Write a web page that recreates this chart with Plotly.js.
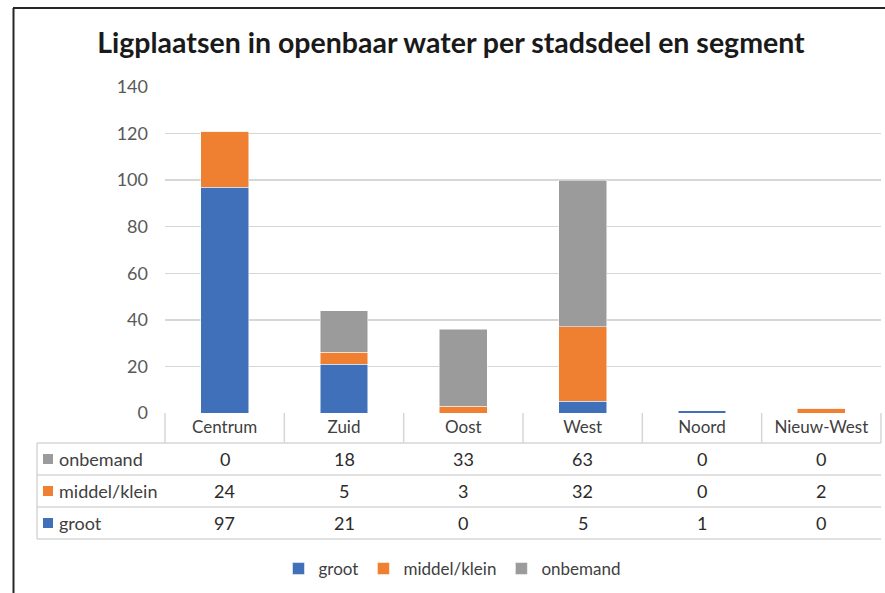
<!DOCTYPE html>
<html>
<head>
<meta charset="utf-8">
<script src="https://cdn.plot.ly/plotly-3.0.1.min.js"></script>
<style>body{margin:0;background:#fff}#plot{width:885px;height:593px}</style>
</head>
<body>
<div id="plot"></div>
<script>
let stadsdelen = ['Centrum', 'Zuid', 'Oost', 'West', 'Noord', 'Nieuw-West'];
let groot = [97, 21, 0, 5, 1, 0];
let middelKlein = [24, 5, 3, 32, 0, 2];
let onbemand = [0, 18, 33, 63, 0, 0];
let yTicks = [0, 20, 40, 60, 80, 100, 120, 140];

let blauw = '#3F70B9', oranje = '#EF7F31', grijs = '#9B9B9B';
let lijnKleur = '#d6d6d6';
let font = 'Lato, "Open Sans", sans-serif';

// plot area in pixels, used to place the data table below the axis
let plotLeft = 165, plotRight = 881, plotTop = 87, plotBottom = 413;
function px(x) { return (x - plotLeft) / (plotRight - plotLeft); }
function py(y) { return (plotBottom - y) / (plotBottom - plotTop); }

function barTrace(name, values, color) {
    return {
        x: stadsdelen,
        y: values,
        name: name,
        type: 'bar',
        width: 0.4,
        marker: {color: color, line: {color: '#ffffff', width: 0.5}}
    };
}

let data = [
    barTrace('groot', groot, blauw),
    barTrace('middel/klein', middelKlein, oranje),
    barTrace('onbemand', onbemand, grijs)
];

// data table (rows top to bottom, as in the picture)
let rijen = [
    {name: 'onbemand', values: onbemand, color: grijs},
    {name: 'middel/klein', values: middelKlein, color: oranje},
    {name: 'groot', values: groot, color: blauw}
];
let tabelLinks = 37, rijTop = 443, rijHoogte = 32;

let shapes = [];
let annotations = [];

function lijn(x0, y0, x1, y1, color, width) {
    shapes.push({type: 'line', xref: 'paper', yref: 'paper',
        x0: px(x0), y0: py(y0), x1: px(x1), y1: py(y1),
        line: {color: color, width: width}});
}

// horizontal table lines
for (let k = 0; k <= rijen.length; k++) {
    let y = rijTop + k * rijHoogte;
    lijn(tabelLinks, y, plotRight, y, lijnKleur, 1.5);
}
// left edge of the table body
lijn(tabelLinks, rijTop, tabelLinks, rijTop + rijen.length * rijHoogte, lijnKleur, 1.5);
// dividers in the category header row
for (let i = 0; i <= stadsdelen.length; i++) {
    let x = plotLeft + i * (plotRight - plotLeft) / stadsdelen.length;
    lijn(x, plotBottom, x, rijTop, lijnKleur, 1.5);
}

rijen.forEach(function (rij, k) {
    let midden = rijTop + k * rijHoogte + rijHoogte / 2;
    shapes.push({type: 'rect', xref: 'paper', yref: 'paper',
        x0: px(43), x1: px(53), y0: py(midden - 5), y1: py(midden + 5),
        fillcolor: rij.color, line: {width: 0}});
    annotations.push({xref: 'paper', yref: 'paper', x: px(57), y: py(midden),
        xanchor: 'left', yanchor: 'middle', text: rij.name, showarrow: false,
        font: {family: font, size: 18, color: '#404040'}});
    rij.values.forEach(function (v, i) {
        annotations.push({xref: 'x', yref: 'paper', x: stadsdelen[i], y: py(midden),
            xanchor: 'center', yanchor: 'middle', text: String(v), showarrow: false,
            font: {family: font, size: 18, color: '#2b2b2b'}});
    });
});

// outer frame (top and left edges are visible)
lijn(13, 8, 885, 8, '#262626', 2);
lijn(13.5, 8, 13.5, 593, '#262626', 2);

let layout = {
    width: 885,
    height: 593,
    margin: {l: plotLeft, r: 885 - plotRight, t: plotTop, b: 593 - plotBottom, pad: 0},
    paper_bgcolor: '#ffffff',
    plot_bgcolor: '#ffffff',
    font: {family: font, color: '#404040'},
    title: {
        text: 'Ligplaatsen in openbaar water per stadsdeel en segment',
        font: {family: font, size: 28.5, color: '#1a1a1a', weight: 'bold'},
        xref: 'container', x: 451 / 885, xanchor: 'center',
        yref: 'container', y: 1 - 43 / 593, yanchor: 'middle'
    },
    barmode: 'stack',
    bargap: 0.6,
    xaxis: {
        type: 'category',
        showgrid: false,
        zeroline: false,
        showline: false,
        ticks: '',
        ticklabelstandoff: 2,
        tickfont: {family: font, size: 17, color: '#404040'},
        fixedrange: true
    },
    yaxis: {
        range: [0, 140],
        tickvals: yTicks,
        showgrid: true,
        gridcolor: '#d6d6d6',
        gridwidth: 1.3,
        zeroline: true,
        zerolinecolor: '#ffffff',
        zerolinewidth: 3,
        showline: false,
        ticks: '',
        ticklabelstandoff: 16,
        tickfont: {family: font, size: 18, color: '#595959'},
        fixedrange: true
    },
    showlegend: true,
    legend: {
        orientation: 'h',
        traceorder: 'normal',
        x: px(452), xanchor: 'center',
        y: py(569), yanchor: 'middle',
        font: {family: font, size: 17, color: '#404040'},
        itemwidth: 30
    },
    shapes: shapes,
    annotations: annotations
};

Plotly.newPlot('plot', data, layout, {displayModeBar: false, staticPlot: true});
</script>
</body>
</html>
